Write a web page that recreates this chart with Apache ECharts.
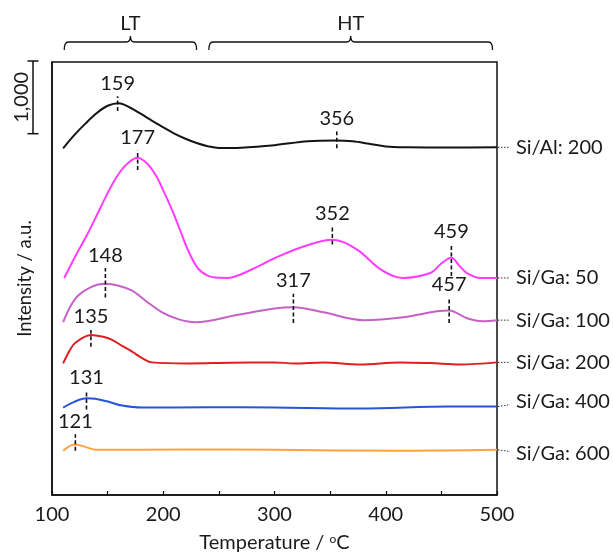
<!DOCTYPE html>
<html>
<head>
<meta charset="utf-8">
<script src="https://cdn.jsdelivr.net/npm/echarts@6/dist/echarts.min.js"></script>
<style>
  html, body { margin: 0; padding: 0; background: #fff; }
  #chart { width: 613px; height: 558px; }
</style>
</head>
<body>
<div id="chart"></div>
<script>
// TPD curves: [temperature (oC), intensity (a.u.)]
const siAl200 = [[110,4836],[120,5020],[130,5180],[140,5325],[150,5430],[160,5466],[170,5405],[180,5315],[190,5220],[200,5128],[210,5042],[220,4970],[230,4910],[240,4865],[250,4840],[270,4845],[300,4880],[330,4935],[355,4946],[370,4935],[385,4900],[400,4862],[420,4850],[460,4846],[500,4850]];
const siGa50 = [[111,3028],[121,3330],[132,3644],[143,3990],[154,4329],[165,4580],[177,4705],[185,4630],[193,4466],[200,4250],[208,3973],[215,3700],[222,3425],[231,3165],[240,3060],[250,3030],[258,3028],[270,3080],[282,3165],[300,3302],[326,3466],[352,3562],[374,3425],[395,3151],[415,3028],[440,3096],[450,3230],[459,3310],[466,3200],[473,3096],[485,3028],[500,3028]];
const siGa100 = [[110,2411],[121,2740],[135,2900],[148,2946],[160,2920],[172,2850],[185,2700],[199,2548],[214,2450],[229,2411],[265,2507],[300,2603],[317,2620],[344,2548],[380,2439],[416,2480],[446,2562],[457,2575],[473,2466],[487,2425],[500,2439]];
const siGa200 = [[110,1836],[116,2020],[121,2124],[135,2233],[145,2210],[154,2165],[163,2080],[172,2000],[181,1910],[190,1850],[222,1836],[260,1845],[300,1850],[318,1836],[344,1850],[377,1822],[413,1850],[440,1840],[467,1822],[500,1850]];
const siGa400 = [[110,1219],[120,1300],[131,1350],[139,1343],[151,1300],[163,1247],[181,1219],[240,1225],[300,1219],[377,1206],[458,1233],[500,1233]];
const siGa600 = [[110,617],[118,699],[121,705],[127,685],[141,630],[220,635],[300,630],[415,617],[500,630]];

const seriesNames = ['Si/Al: 200', 'Si/Ga: 50', 'Si/Ga: 100', 'Si/Ga: 200', 'Si/Ga: 400', 'Si/Ga: 600'];

// peak markers: label, temperature, dashed-line bottom / top intensity
const peakLabels = ['159', '356', '177', '352', '459', '148', '317', '457', '135', '131', '121'];
const peakTemps  = [159, 356, 177, 352, 459, 148, 317, 457, 135, 131, 121];
const peakLow    = [5357, 4836, 4535, 3494, 3055, 2754, 2398, 2398, 2069, 1192, 617];
const peakHigh   = [5562, 5069, 4809, 3740, 3494, 3165, 2809, 2754, 2302, 1452, 849];

// temperature regions above the plot
const regionNames = ['LT', 'HT'];
const regionStart = [111, 241];
const regionEnd   = [230, 496];

const scaleBar = 1000;
const yMax = 6040;

const colors = ['#141414', '#ff3cff', '#c760c7', '#dd1f1f', '#2457d6', '#ffa23c'];
const labelNudge = [0, 0, 0, 0, -5, 4];
const FONT = 'Lato, "Noto Sans", sans-serif';
const TXT = '#1a1a1a';
const FS = 20;

const allSeries = [siAl200, siGa50, siGa100, siGa200, siGa400, siGa600];

const chart = echarts.init(document.getElementById('chart'));

const lineSeries = allSeries.map((d, i) => ({
  name: seriesNames[i],
  type: 'line',
  data: d,
  smooth: 0.35,
  showSymbol: false,
  lineStyle: { color: colors[i], width: 2 },
  silent: true,
  z: 3
}));

chart.setOption({
  animation: false,
  textStyle: { fontFamily: FONT },
  grid: {
    left: 52, right: 116, top: 62, bottom: 55,
    show: true, borderColor: '#111', borderWidth: 1.5
  },
  xAxis: {
    type: 'value',
    min: 100, max: 500, interval: 50,
    axisLine: { lineStyle: { color: '#111', width: 1.5 } },
    axisTick: { inside: true, length: 4, lineStyle: { color: '#111', width: 1.2 } },
    splitLine: { show: false },
    axisLabel: {
      color: TXT, fontSize: FS, fontFamily: FONT, margin: 10,
      formatter: v => (v % 100 === 0 ? String(v) : '')
    },
    name: '{a|Temperature / }{s|o}{a|C}',
    nameLocation: 'middle',
    nameGap: 38,
    nameTextStyle: {
      color: TXT,
      rich: {
        a: { fontSize: FS, fontFamily: FONT, color: TXT },
        s: { fontSize: 12, fontFamily: FONT, color: TXT, verticalAlign: 'top', padding: [0, 0, 7, 0] }
      }
    }
  },
  yAxis: {
    type: 'value',
    min: 0, max: yMax,
    axisLine: { show: true, lineStyle: { color: '#111', width: 1.5 } },
    axisTick: { show: false },
    axisLabel: { show: false },
    splitLine: { show: false },
    name: 'Intensity / a.u.',
    nameLocation: 'middle',
    nameGap: 17,
    nameRotate: 90,
    nameTextStyle: { color: TXT, fontSize: 18.5, fontFamily: FONT }
  },
  series: lineSeries.concat([
    {
      // peak position markers
      type: 'custom',
      data: peakTemps.map((t, i) => [t, peakLow[i], peakHigh[i]]),
      silent: true,
      z: 5,
      renderItem(params, api) {
        const lo = api.coord([api.value(0), api.value(1)]);
        const hi = api.coord([api.value(0), api.value(2)]);
        return {
          type: 'group',
          children: [
            { type: 'line', shape: { x1: lo[0], y1: lo[1], x2: hi[0], y2: hi[1] },
              style: { stroke: '#111', lineWidth: 1.6, lineDash: [4, 2.5] } },
            { type: 'text', style: { text: peakLabels[params.dataIndex], x: hi[0], y: hi[1] - 3,
              align: 'center', verticalAlign: 'bottom', fontSize: FS, fontFamily: FONT, fill: TXT } }
          ]
        };
      }
    },
    {
      // series names at the right end of each curve
      type: 'custom',
      data: allSeries.map(d => d[d.length - 1]),
      silent: true,
      renderItem(params, api) {
        const p = api.coord([api.value(0), api.value(1)]);
        const i = params.dataIndex;
        return {
          type: 'group',
          children: [
            { type: 'line', shape: { x1: p[0] + 1, y1: p[1], x2: p[0] + 13, y2: p[1] + labelNudge[i] * 0.4 },
              style: { stroke: '#333', lineWidth: 1, lineDash: [1.5, 1.5] } },
            { type: 'text', style: { text: seriesNames[i], x: p[0] + 19, y: p[1] + labelNudge[i],
              align: 'left', verticalAlign: 'middle', fontSize: FS, fontFamily: FONT, fill: TXT } }
          ]
        };
      }
    },
    {
      // LT / HT brackets
      type: 'custom',
      data: regionStart.map((s, i) => [s, regionEnd[i]]),
      silent: true,
      renderItem(params, api) {
        const x1 = api.coord([api.value(0), 0])[0];
        const x2 = api.coord([api.value(1), 0])[0];
        const xm = (x1 + x2) / 2;
        const y0 = params.coordSys.y - 20;
        const d = 'M' + x1 + ',' + (y0 + 8) + ' Q' + x1 + ',' + y0 + ' ' + (x1 + 4) + ',' + y0 +
          ' L' + (xm - 4) + ',' + y0 + ' Q' + xm + ',' + y0 + ' ' + xm + ',' + (y0 - 6) +
          ' Q' + xm + ',' + y0 + ' ' + (xm + 4) + ',' + y0 +
          ' L' + (x2 - 4) + ',' + y0 + ' Q' + x2 + ',' + y0 + ' ' + x2 + ',' + (y0 + 8);
        return {
          type: 'group',
          children: [
            { type: 'path', shape: { pathData: d }, style: { stroke: '#111', lineWidth: 1.3, fill: null } },
            { type: 'text', style: { text: regionNames[params.dataIndex], x: xm, y: y0 - 18,
              align: 'center', verticalAlign: 'middle', fontSize: FS, fontFamily: FONT, fill: TXT } }
          ]
        };
      }
    },
    {
      // intensity scale bar
      type: 'custom',
      data: [[100, yMax - scaleBar, yMax]],
      silent: true,
      renderItem(params, api) {
        const lo = api.coord([api.value(0), api.value(1)]);
        const hi = api.coord([api.value(0), api.value(2)]);
        const x = params.coordSys.x - 19;
        const yb = lo[1], yt = hi[1] - 1;
        return {
          type: 'group',
          children: [
            { type: 'line', shape: { x1: x, y1: yb, x2: x, y2: yt }, style: { stroke: '#111', lineWidth: 1.5 } },
            { type: 'line', shape: { x1: x - 5.5, y1: yb, x2: x + 5.5, y2: yb }, style: { stroke: '#111', lineWidth: 1.5 } },
            { type: 'line', shape: { x1: x - 5.5, y1: yt, x2: x + 5.5, y2: yt }, style: { stroke: '#111', lineWidth: 1.5 } },
            { type: 'text', x: x - 11, y: (yb + yt) / 2, rotation: Math.PI / 2,
              style: { text: scaleBar.toLocaleString('en-US'), x: 0, y: 0, align: 'center', verticalAlign: 'middle',
                fontSize: FS, fontFamily: FONT, fill: TXT } }
          ]
        };
      }
    }
  ])
});
</script>
</body>
</html>
